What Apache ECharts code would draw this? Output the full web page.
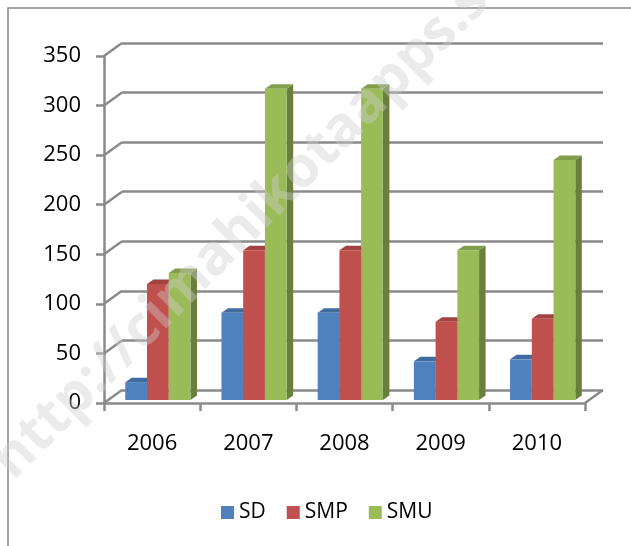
<!DOCTYPE html>
<html>
<head>
<meta charset="utf-8">
<script src="https://cdn.jsdelivr.net/npm/echarts@6/dist/echarts.min.js"></script>
<style>
  html, body { margin: 0; padding: 0; background: #fff; }
  #chart { width: 631px; height: 546px; }
</style>
</head>
<body>
<div id="chart"></div>
<script>
const years = ['2006', '2007', '2008', '2009', '2010']
const sdValues = [18, 88, 88, 39, 41]
const smpValues = [117, 151, 151, 79, 82]
const smuValues = [128, 314, 314, 151, 242]
const yTicks = [0, 50, 100, 150, 200, 250, 300, 350]

// depth of the back wall relative to the front axes
const DX = 18
const DY = -13
const lineColor = '#8a8a8a'
const font = 'Open Sans'

function shade(hex, f) {
  const n = parseInt(hex.slice(1), 16)
  const r = Math.round(((n >> 16) & 255) * f)
  const g = Math.round(((n >> 8) & 255) * f)
  const b = Math.round((n & 255) * f)
  return 'rgb(' + r + ',' + g + ',' + b + ')'
}

function barSeries(name, values, k, color) {
  return {
    name: name,
    type: 'custom',
    xAxisIndex: 0,
    yAxisIndex: 0,
    z: 3,
    itemStyle: { color: color },
    data: values.map((v, i) => [i, v]),
    renderItem(params, api) {
      const i = api.value(0)
      const v = api.value(1)
      const base = api.coord([i, 0])
      const top = api.coord([i, v])
      const cw = api.size([1, 0])[0]
      const bw = cw * 0.226
      const x0 = base[0] + cw * 0.06 - 1.5 * bw + k * bw
      const x1 = x0 + bw
      const yb = base[1] - 3
      const yt = top[1] - 3
      const dx = 6.5
      const dy = -4.5
      return {
        type: 'group',
        children: [
          {
            type: 'polygon',
            shape: { points: [[x1, yt], [x1 + dx, yt + dy], [x1 + dx, yb + dy], [x1, yb]] },
            style: { fill: shade(color, 0.68) }
          },
          {
            type: 'polygon',
            shape: { points: [[x0, yt], [x1, yt], [x1 + dx, yt + dy], [x0 + dx, yt + dy]] },
            style: { fill: shade(color, 0.84) }
          },
          {
            type: 'rect',
            shape: { x: x0, y: yt, width: bw, height: yb - yt },
            style: { fill: color }
          }
        ]
      }
    }
  }
}

const chart = echarts.init(document.getElementById('chart'))
chart.setOption({
  backgroundColor: '#fff',
  animation: false,
  textStyle: { fontFamily: font },
  graphic: [
    {
      type: 'rect',
      z: 0,
      shape: { x: 8, y: 8, width: 700, height: 700 },
      style: { fill: 'none', stroke: '#868686', lineWidth: 1.5 }
    },
    {
      type: 'text',
      z: 100,
      x: 2,
      y: 470,
      rotation: Math.PI / 4,
      style: {
        text: 'http://cimahikotaapps.s',
        font: 'bold 56px "Open Sans"',
        fill: 'rgba(205,205,205,0.4)',
        align: 'left',
        verticalAlign: 'middle'
      }
    }
  ],
  grid: [
    { left: 104, top: 56, width: 481, height: 347 },
    { left: 104 + DX, top: 56 + DY, width: 481, height: 347 }
  ],
  legend: {
    left: 221,
    top: 502,
    padding: 0,
    icon: 'rect',
    itemWidth: 13,
    itemHeight: 13,
    itemGap: 21,
    textStyle: { fontSize: 21, color: '#000', fontFamily: font, lineHeight: 21 },
    data: ['SD', 'SMP', 'SMU']
  },
  xAxis: [
    {
      type: 'category',
      gridIndex: 0,
      data: years,
      axisLine: { lineStyle: { color: lineColor, width: 2.5 } },
      axisTick: { show: true, interval: 0, length: 8, lineStyle: { color: lineColor, width: 2.5 } },
      axisLabel: { margin: 30, fontSize: 22, color: '#000', fontFamily: font },
      splitLine: { show: false }
    },
    {
      type: 'category',
      gridIndex: 1,
      data: years,
      show: false
    }
  ],
  yAxis: [
    {
      type: 'value',
      gridIndex: 0,
      min: 0,
      max: 350,
      interval: 50,
      axisLine: { show: true, lineStyle: { color: lineColor, width: 2.5 } },
      axisTick: { show: true, length: 8, lineStyle: { color: lineColor, width: 2.5 } },
      axisLabel: { margin: 23, fontSize: 22, color: '#000', fontFamily: font },
      splitLine: { show: false }
    },
    {
      type: 'value',
      gridIndex: 1,
      min: 0,
      max: 350,
      interval: 50,
      axisLine: { show: false },
      axisTick: { show: false },
      axisLabel: { show: false },
      splitLine: { show: true, lineStyle: { color: lineColor, width: 2.5 } }
    }
  ],
  series: [
    {
      type: 'custom',
      name: 'walls',
      xAxisIndex: 0,
      yAxisIndex: 0,
      z: 1,
      silent: true,
      data: yTicks.map(v => [0, v]),
      renderItem(params, api) {
        const cs = params.coordSys
        const p = api.coord([0, api.value(1)])
        const style = { stroke: lineColor, lineWidth: 2.5 }
        const children = [{
          type: 'line',
          shape: { x1: cs.x, y1: p[1], x2: cs.x + DX, y2: p[1] + DY },
          style: style
        }]
        if (api.value(1) === 0) {
          children.push({
            type: 'line',
            shape: { x1: cs.x + cs.width, y1: p[1], x2: cs.x + cs.width + DX, y2: p[1] + DY },
            style: style
          })
        }
        return { type: 'group', children: children }
      }
    },
    barSeries('SD', sdValues, 0, '#4F81BD'),
    barSeries('SMP', smpValues, 1, '#C0504D'),
    barSeries('SMU', smuValues, 2, '#9BBB59')
  ]
})
</script>
</body>
</html>
